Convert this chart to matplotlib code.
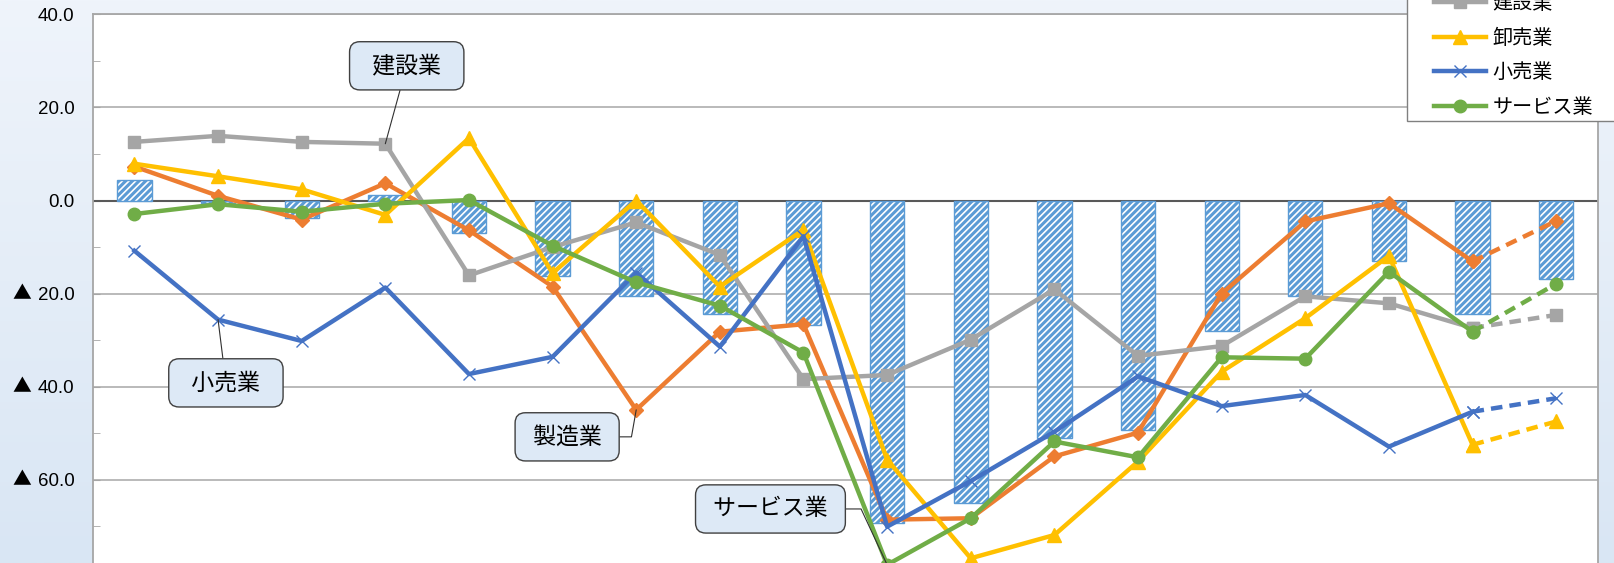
import matplotlib
matplotlib.use("Agg")
import matplotlib.pyplot as plt
from matplotlib.colors import LinearSegmentedColormap
from matplotlib.patches import Rectangle
from matplotlib.transforms import offset_copy
import numpy as np

plt.rcParams["font.family"] = ["Noto Sans CJK JP", "DejaVu Sans"]
plt.rcParams["hatch.linewidth"] = 2.2

# values (18 periods, last segment is a forecast)
periods = np.arange(18)
all_ind = [4.3, -0.5, -3.8, 1.1, -7.0, -16.3, -20.6, -24.4, -26.7, -69.4,
           -65.0, -51.1, -49.3, -28.0, -20.6, -13.1, -24.4, -16.8]
manuf = [7.3, 1.0, -4.1, 3.7, -6.4, -18.5, -45.0, -28.2, -26.6, -68.6,
         -68.3, -55.0, -49.9, -20.0, -4.5, -0.6, -13.1, -4.4]
constr = [12.6, 13.9, 12.6, 12.2, -16.1, -10.0, -4.7, -11.7, -38.4, -37.5,
          -29.9, -19.1, -33.4, -31.3, -20.6, -22.1, -27.4, -24.6]
wholesale = [7.9, 5.2, 2.4, -3.1, 13.4, -15.6, 0.0, -18.5, -6.3, -55.7,
             -76.9, -71.9, -56.1, -36.8, -25.3, -11.9, -52.5, -47.5]
retail = [-10.8, -25.6, -30.2, -18.7, -37.3, -33.6, -15.5, -31.4, -7.7, -70.1,
          -60.3, -49.7, -37.8, -44.2, -41.8, -52.9, -45.4, -42.5]
service = [-2.9, -0.8, -2.4, -0.7, 0.1, -9.7, -17.6, -22.6, -32.7, -78.3,
           -68.3, -51.8, -55.2, -33.7, -34.0, -15.3, -28.2, -17.9]
yticks = [40, 20, 0, -20, -40, -60]

series = [
    ("製造業", manuf, "#ed7d31", "D", 7),
    ("建設業", constr, "#a5a5a5", "s", 8),
    ("卸売業", wholesale, "#ffc000", "^", 10),
    ("小売業", retail, "#4472c4", "x", 9),
    ("サービス業", service, "#70ad47", "o", 9),
]

W, H = 1614, 563
fig = plt.figure(figsize=(W / 100, H / 100), dpi=100)

# background gradient
bg = fig.add_axes([0, 0, 1, 1], zorder=-5)
grad = np.linspace(0, 1, 256).reshape(-1, 1)
cmap = LinearSegmentedColormap.from_list("bg", ["#eff4fb", "#d9e6f4"])
bg.imshow(grad, aspect="auto", cmap=cmap, extent=[0, 1, 0, 1])
bg.axis("off")

ax = fig.add_axes([92.6 / W, -9.7 / H, (1598 - 92.6) / W, 558.3 / H])
ax.set_facecolor("white")
ax.set_xlim(-0.5, 17.5)
ax.set_ylim(-80, 40)

ax.bar(periods, all_ind, width=0.41, color="white", edgecolor="#5b9bd5",
       hatch="/////", linewidth=1.0, zorder=2)

handles = []
for name, vals, col, mk, ms in series:
    kw = dict(color=col, lw=3.2, marker=mk, markersize=ms, zorder=3)
    if mk == "x":
        kw.update(markeredgewidth=1.0)
    h, = ax.plot(periods[:17], vals[:17], **kw)
    ax.plot(periods[16:], vals[16:], ls=(0, (2.6, 1.6)), **kw)
    handles.append((h, name))

# y labels: number plus a separate full-size ▲ for negatives
ax.set_yticks(yticks)
ax.set_yticks(np.arange(-70, 41, 10), minor=True)
ax.set_yticklabels([f"{abs(v):.1f}" for v in yticks],
                   family=["Liberation Sans", "DejaVu Sans"], fontsize=13.5)
tri = offset_copy(ax.get_yaxis_transform(), fig=fig, x=-80, y=0, units="dots")
for v in yticks:
    if v < 0:
        ax.text(0, v, "▲", transform=tri, ha="left", va="center",
                fontsize=13.5, family=["Noto Sans CJK JP"])
ax.tick_params(axis="y", which="both", direction="in", length=5,
               color="#a6a6a6", pad=13)
ax.tick_params(axis="x", bottom=False, labelbottom=False)
ax.grid(axis="y", which="major", color="#b4b4b4", lw=1.3, zorder=0)
ax.set_axisbelow(True)
ax.axhline(0, color="#595959", lw=1.5, zorder=1)
for s in ["left", "right", "top"]:
    ax.spines[s].set_color("#a6a6a6")
    ax.spines[s].set_linewidth(1.3)
ax.spines["bottom"].set_visible(False)

# callouts
box = dict(boxstyle="round,pad=0.55,rounding_size=0.45", fc="#dde9f6",
           ec="#404040", lw=1.0)
line = dict(arrowstyle="-", color="#303030", lw=0.8, shrinkA=0, shrinkB=0)
ax.annotate("  建設業  ", xy=(3, constr[3]), xytext=(3.256, 28.95),
            ha="center", va="center", fontsize=16.5, bbox=box,
            arrowprops=line, zorder=6)
ax.annotate("  小売業  ", xy=(1, retail[1]), xytext=(1.094, -39.2),
            ha="center", va="center", fontsize=16.5, bbox=box,
            arrowprops=line, zorder=6)
ax.annotate(" 製造業 ", xy=(6, manuf[6]), xytext=(5.174, -50.8),
            ha="center", va="center", fontsize=16.5, bbox=box,
            arrowprops=dict(line, connectionstyle="angle,angleA=0,angleB=80,rad=0"),
            zorder=6)
ax.annotate(" サービス業 ", xy=(9, service[9]), xytext=(7.605, -66.3),
            ha="center", va="center", fontsize=16.5, bbox=box,
            arrowprops=dict(line, connectionstyle="angle,angleA=0,angleB=115,rad=0"),
            zorder=6)

# legend: frame drawn separately so it runs off the top/right edges
fig.patches.append(Rectangle((1407 / W, 1 - 121 / H), 0.2, 0.3,
                             transform=fig.transFigure, fc="white",
                             ec="#808080", lw=1.0, zorder=4))
leg = fig.legend([h for h, _ in handles[1:]], [n for _, n in handles[1:]],
                 loc="lower left", bbox_to_anchor=(1428 / W, 1 - 124 / H),
                 fontsize=14.5, frameon=False, handlelength=2.6,
                 handletextpad=0.3, labelspacing=0.68, borderpad=0.3,
                 borderaxespad=0)
leg.set_zorder(5)

fig.savefig("out.png", dpi=100)
